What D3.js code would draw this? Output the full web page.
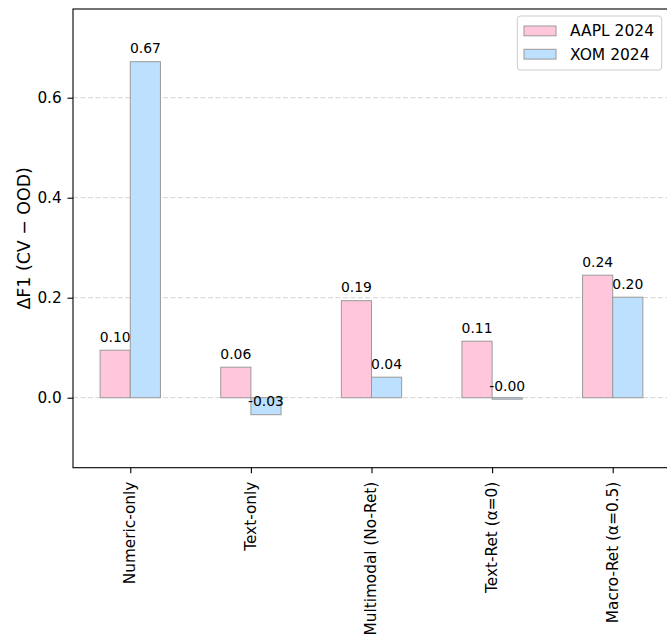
<!DOCTYPE html>
<html>
<head>
<meta charset="utf-8">
<script src="https://cdn.jsdelivr.net/npm/d3@7"></script>
<style>
  html, body { margin: 0; padding: 0; background: #fff; }
  svg { display: block; font-family: "DejaVu Sans", sans-serif; }
</style>
</head>
<body>
<svg id="chart" width="667" height="637"></svg>
<script>
const categories = ["Numeric-only", "Text-only", "Multimodal (No-Ret)", "Text-Ret (α=0)", "Macro-Ret (α=0.5)"];
const seriesNames = ["AAPL 2024", "XOM 2024"];
const aaplValues = [0.095, 0.061, 0.194, 0.113, 0.245];
const xomValues = [0.672, -0.034, 0.041, -0.003, 0.201];
const yTicks = [0.0, 0.2, 0.4, 0.6];
const colors = ["#FFC6DC", "#BDE0FE"];

(function () {
const svg = d3.select("#chart");
const pLeft = 73, pRight = 670, pTop = 9, pBottom = 467.7;

const x = d3.scalePoint().domain(categories).range([pLeft, pRight]).padding(0.475);
const step = x.step();
const barW = step * 0.25;
const y = d3.scaleLinear().domain([-0.14, 0.7774]).range([pBottom, pTop]);

// grid
svg.append("g").selectAll("line").data(yTicks).join("line")
  .attr("x1", pLeft).attr("x2", pRight)
  .attr("y1", d => y(d)).attr("y2", d => y(d))
  .attr("stroke", "#d4d4d4").attr("stroke-width", 1)
  .attr("stroke-dasharray", "5,2.5");

const series = [aaplValues, xomValues];
series.forEach((vals, si) => {
  const g = svg.append("g");
  const data = categories.map((c, i) => ({c, v: vals[i]}));
  g.selectAll("rect").data(data).join("rect")
    .attr("x", d => x(d.c) + (si - 1) * barW)
    .attr("width", barW)
    .attr("y", d => y(Math.max(0, d.v)))
    .attr("height", d => Math.abs(y(d.v) - y(0)))
    .attr("fill", colors[si])
    .attr("stroke", "#9a9a9a").attr("stroke-width", 1);
  g.selectAll("text").data(data).join("text")
    .attr("x", d => x(d.c) + (si - 0.5) * barW)
    .attr("y", d => y(d.v + 0.01) - 3.3)
    .attr("text-anchor", "middle")
    .attr("font-size", "13.9px")
    .attr("fill", "#000")
    .text(d => d.v.toFixed(2));
});

// axes
const yAxis = d3.axisLeft(y).tickValues(yTicks).tickFormat(d3.format(".1f")).tickSize(5.5).tickPadding(5.8);
const gy = svg.append("g").attr("transform", `translate(${pLeft},0)`).call(yAxis);
gy.select(".domain").remove();
gy.selectAll(".tick line").attr("stroke", "#000").attr("stroke-width", 1.1);
gy.selectAll(".tick text").attr("font-size", "15.3px").attr("font-family", "DejaVu Sans").attr("fill", "#000");

const xAxis = d3.axisBottom(x).tickSize(5.5).tickSizeOuter(0);
const gx = svg.append("g").attr("transform", `translate(0,${pBottom})`).call(xAxis);
gx.select(".domain").remove();
gx.selectAll(".tick line").attr("stroke", "#000").attr("stroke-width", 1.1);
gx.selectAll(".tick text")
  .attr("font-size", "15.3px").attr("font-family", "DejaVu Sans").attr("fill", "#000")
  .attr("transform", "translate(0,14) rotate(-90)")
  .attr("x", 0).attr("y", 0).attr("dy", "0.28em")
  .attr("text-anchor", "end");

// spines
svg.append("rect").attr("x", pLeft).attr("y", pTop).attr("width", pRight - pLeft).attr("height", pBottom - pTop)
  .attr("fill", "none").attr("stroke", "#000").attr("stroke-width", 1.1);

// y label
svg.append("text")
  .attr("transform", `translate(24,${(pTop + pBottom) / 2}) rotate(-90)`)
  .attr("dy", "0.35em")
  .attr("text-anchor", "middle")
  .attr("font-size", "17.4px")
  .text("ΔF1 (CV − OOD)");

// legend
const lg = svg.append("g");
lg.append("rect").attr("x", 517.3).attr("y", 16).attr("width", 144.4).attr("height", 54).attr("rx", 3)
  .attr("fill", "#fff").attr("fill-opacity", 0.8).attr("stroke", "#cccccc").attr("stroke-width", 1);
seriesNames.forEach((n, i) => {
  const yy = 26 + i * 23.3;
  lg.append("rect").attr("x", 524).attr("y", yy).attr("width", 32).attr("height", 9.8)
    .attr("fill", colors[i]).attr("stroke", "#9a9a9a").attr("stroke-width", 1);
  lg.append("text").attr("x", 570).attr("y", yy + 4.9).attr("dy", "0.35em")
    .attr("font-size", "15.5px").text(n);
});
})();
</script>
</body>
</html>
